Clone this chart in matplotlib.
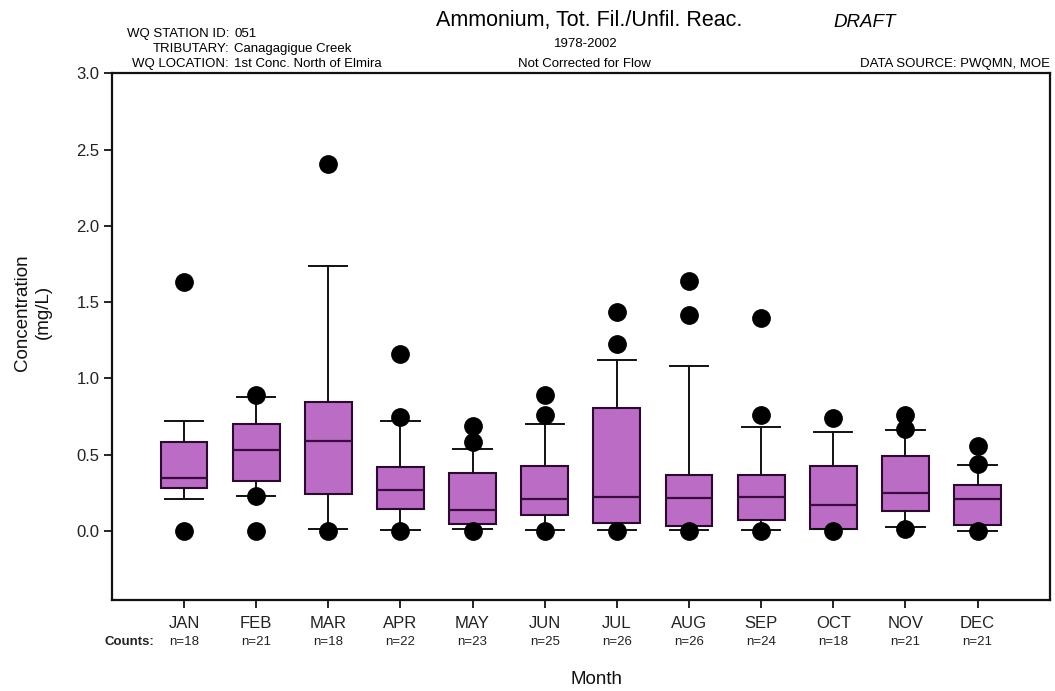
import matplotlib
matplotlib.use("Agg")
import matplotlib.pyplot as plt
from matplotlib.transforms import blended_transform_factory

plt.rcParams['font.family'] = ['Liberation Sans', 'DejaVu Sans']

months = ["JAN", "FEB", "MAR", "APR", "MAY", "JUN", "JUL", "AUG", "SEP", "OCT", "NOV", "DEC"]
counts = [18, 21, 18, 22, 23, 25, 26, 26, 24, 18, 21, 21]
whis_lo = [0.21, 0.23, 0.014, 0.009, 0.016, 0.005, 0.005, 0.005, 0.005, 0.011, 0.029, 0.003]
q1 = [0.283, 0.328, 0.246, 0.142, 0.048, 0.105, 0.055, 0.031, 0.075, 0.011, 0.134, 0.037]
medians = [0.346, 0.534, 0.59, 0.271, 0.14, 0.21, 0.223, 0.214, 0.223, 0.169, 0.252, 0.212]
q3 = [0.585, 0.70, 0.844, 0.418, 0.378, 0.426, 0.807, 0.37, 0.37, 0.426, 0.492, 0.304]
whis_hi = [0.72, 0.878, 1.74, 0.724, 0.536, 0.704, 1.12, 1.082, 0.682, 0.647, 0.662, 0.435]
outliers = [
    [1.635, 0.0],
    [0.89, 0.23, 0.0],
    [2.407, 0.0],
    [1.163, 0.747, 0.0],
    [0.687, 0.584, 0.0],
    [0.894, 0.763, 0.0],
    [1.436, 1.224, 0.0],
    [1.64, 1.415, 0.0],
    [1.397, 0.759, 0.0],
    [0.741, 0.0],
    [0.759, 0.667, 0.016],
    [0.557, 0.44, 0.0],
]
yticks = [0.0, 0.5, 1.0, 1.5, 2.0, 2.5, 3.0]

stats = []
for i in range(len(months)):
    stats.append(dict(med=medians[i], q1=q1[i], q3=q3[i], whislo=whis_lo[i],
                      whishi=whis_hi[i], fliers=outliers[i], label=months[i]))

fig = plt.figure(figsize=(10.55, 6.91), dpi=100)
ax = fig.add_axes([0.106, 0.132, 0.889, 0.762])

positions = list(range(1, len(months) + 1))
ax.bxp(stats, positions=positions, widths=0.65, patch_artist=True,
       boxprops=dict(facecolor="#BB6CC4", edgecolor="#2a0a2e", linewidth=1.5),
       medianprops=dict(color="#3a0a40", linewidth=1.6),
       whiskerprops=dict(color="#111111", linewidth=1.4),
       capprops=dict(color="#111111", linewidth=1.4),
       capwidths=0.53,
       flierprops=dict(marker="o", markerfacecolor="black", markeredgecolor="black",
                       markersize=12.5, linestyle="none"))

ax.set_xlim(0, 13)
ax.set_ylim(-0.45, 3.0)
ax.set_yticks(yticks)
ax.set_yticklabels([f"{v:.1f}" for v in yticks], fontsize=12, color="#222222")
ax.set_xticks(positions)
ax.set_xticklabels(months, fontsize=12, color="#222222")
ax.tick_params(axis="y", direction="out", length=6, width=1.2, pad=3)
ax.tick_params(axis="x", direction="out", length=6, width=1.2, pad=6)
for s in ax.spines.values():
    s.set_linewidth(1.6)
    s.set_color("#111111")

# counts row
trans = blended_transform_factory(ax.transData, fig.transFigure)
for p, c in zip(positions, counts):
    fig.text(p, 0.071, f"n={c}", transform=trans, ha="center", va="center",
             fontsize=9.5, color="#222222")
fig.text(0.146, 0.071, "Counts:", ha="right", va="center",
         fontsize=9.5, fontweight="bold", color="#222222")

fig.text(0.565, 0.016, "Month", ha="center", va="center", fontsize=13.5, color="#111111")
fig.text(0.031, 0.548, "Concentration\n(mg/L)", ha="center", va="center", rotation=90,
         multialignment="center", fontsize=13.5, color="#111111", linespacing=1.3)

# header texts
fig.text(0.558, 0.970, "Ammonium, Tot. Fil./Unfil. Reac.", ha="center", va="center", fontsize=15.5)
fig.text(0.790, 0.967, "DRAFT", ha="left", va="center", fontsize=13.5, style="italic")
fig.text(0.555, 0.936, "1978-2002", ha="center", va="center", fontsize=9.5)
fig.text(0.554, 0.907, "Not Corrected for Flow", ha="center", va="center", fontsize=9.5)
fig.text(0.217, 0.951, "WQ STATION ID:", ha="right", va="center", fontsize=9.5)
fig.text(0.222, 0.951, "051", ha="left", va="center", fontsize=9.5)
fig.text(0.217, 0.929, "TRIBUTARY:", ha="right", va="center", fontsize=9.5)
fig.text(0.222, 0.929, "Canagagigue Creek", ha="left", va="center", fontsize=9.5)
fig.text(0.217, 0.907, "WQ LOCATION:", ha="right", va="center", fontsize=9.5)
fig.text(0.222, 0.907, "1st Conc. North of Elmira", ha="left", va="center", fontsize=9.5)
fig.text(0.995, 0.907, "DATA SOURCE: PWQMN, MOE", ha="right", va="center", fontsize=9.5)

fig.savefig("out.png", dpi=100)
